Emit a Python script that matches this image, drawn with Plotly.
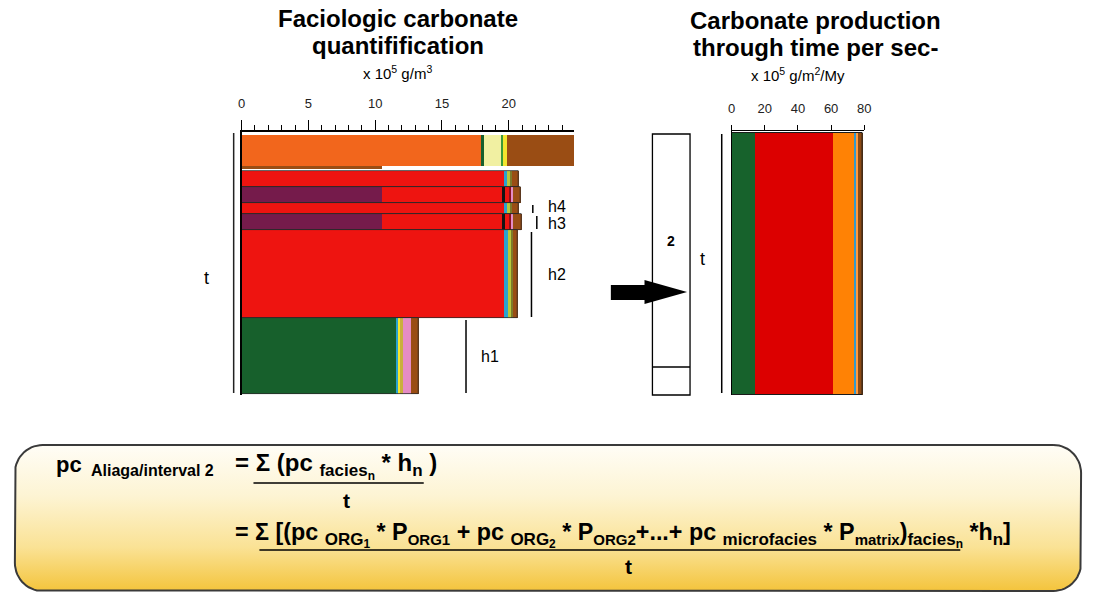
import numpy as np
import plotly.graph_objects as go

W, H = 1096, 593
FONT = "Liberation Sans, Arial, sans-serif"

# ---------------- data ----------------
# Left panel: facies beds from top to bottom (relative thickness h, in section units)
bed_labels = ["A", "B", "gap", "C", "D", "E", "F", "G", "H"]
bed_thickness = [31, 3, 2, 16, 16, 11, 16, 88, 76]
section_top = 3

palette = {
    "orange": "#f2661c", "dkgreen": "#17602c", "ltyellow": "#f1f0a2", "green": "#3a9a3a",
    "yellow": "#f3e52e", "brown": "#9a4d14", "red": "#ee1410", "cyan": "#2aa3cf",
    "lime": "#b7c83a", "olive": "#7d7a2a", "purple": "#751b4b", "black": "#141414",
    "dkred": "#8a1020", "pink": "#e58cc4", "gold": "#c9b03c",
}

# carbonate content per component (x 10^5 g/m3), stacked left to right, per bed
bed_values = [
    [17.9, 0.25, 1.25, 0.12, 0.3, 5.05],
    [10.5],
    [],
    [19.6, 0.25, 0.2, 0.15, 0.5],
    [10.5, 9.0, 0.2, 0.3, 0.1, 0.2, 0.55],
    [19.6, 0.25, 0.2, 0.15, 0.5],
    [10.5, 9.0, 0.2, 0.3, 0.1, 0.2, 0.65],
    [19.6, 0.3, 0.2, 0.15, 0.4],
    [11.5, 0.15, 0.15, 0.22, 0.6, 0.66],
]
bed_colors = [
    ["orange", "dkgreen", "ltyellow", "green", "yellow", "brown"],
    ["brown"],
    [],
    ["red", "cyan", "lime", "olive", "brown"],
    ["purple", "red", "black", "red", "dkred", "pink", "brown"],
    ["red", "cyan", "lime", "olive", "brown"],
    ["purple", "red", "black", "red", "dkred", "pink", "brown"],
    ["red", "cyan", "lime", "olive", "brown"],
    ["dkgreen", "cyan", "yellow", "gold", "pink", "brown"],
]
left_ticks = [0, 5, 10, 15, 20]

# Right panel: carbonate production through time for section interval 2 (x 10^5 g/m2/My)
sec_values = [13.7, 47.2, 13.1, 1.0, 0.8, 3.4]
sec_colors = ["#17622c", "#dc0000", "#ff8205", "#3399cc", "#ff9a40", "#8b4a14"]
sec_thickness = 262
sec_top = 2
right_ticks = [0, 20, 40, 60, 80]

# h brackets: (bed index, label)
h_marks = [(5, "h4"), (6, "h3"), (7, "h2"), (8, "h1")]
h_x = [21.8, 22.1, 21.7, 16.8]
h_label_x = [23.6, 23.6, 23.6, 18.6]
h_label_dy = [-2, 1, 0, 0]

fig = go.Figure()

# ---------------- left stacked facies bars ----------------
tops = section_top + np.concatenate([[0], np.cumsum(bed_thickness)[:-1]])
for i, (t, th) in enumerate(zip(tops, bed_thickness)):
    vals = bed_values[i]
    if not vals:
        continue
    bases = np.concatenate([[0], np.cumsum(vals)[:-1]])
    for v, b, c in zip(vals, bases, bed_colors[i]):
        fig.add_trace(go.Bar(
            orientation="h", y=[t + th / 2], x=[v], base=[b], width=[th],
            marker=dict(color=palette[c], line=dict(width=0)),
            xaxis="x", yaxis="y", showlegend=False, hoverinfo="skip"))
    if i >= 3:
        fig.add_trace(go.Bar(
            orientation="h", y=[t + th / 2], x=[sum(vals)], base=[0], width=[th],
            marker=dict(color="rgba(0,0,0,0)", line=dict(width=0.8, color="#2a2a2a")),
            xaxis="x", yaxis="y", showlegend=False, hoverinfo="skip"))

# ---------------- right production bar ----------------
sbases = np.concatenate([[0], np.cumsum(sec_values)[:-1]])
for v, b, c in zip(sec_values, sbases, sec_colors):
    fig.add_trace(go.Bar(
        orientation="h", y=[sec_top + sec_thickness / 2], x=[v], base=[b], width=[sec_thickness],
        marker=dict(color=c, line=dict(width=0)),
        xaxis="x2", yaxis="y2", showlegend=False, hoverinfo="skip"))
fig.add_trace(go.Bar(
    orientation="h", y=[sec_top + sec_thickness / 2], x=[sum(sec_values)], base=[0], width=[sec_thickness],
    marker=dict(color="rgba(0,0,0,0)", line=dict(width=1, color="#1a1a1a")),
    xaxis="x2", yaxis="y2", showlegend=False, hoverinfo="skip"))

# ---------------- formula box (pixel overlay axes) ----------------
def rounded_rect(x0, y0, x1, y1, r, n=16):
    xs, ys = [], []
    for cx, cy, a0, a1 in [(x1 - r, y0 + r, -90, 0), (x1 - r, y1 - r, 0, 90),
                           (x0 + r, y1 - r, 90, 180), (x0 + r, y0 + r, 180, 270)]:
        a = np.radians(np.linspace(a0, a1, n))
        xs.extend(cx + r * np.cos(a))
        ys.extend(cy + r * np.sin(a))
    xs.append(xs[0]); ys.append(ys[0])
    return xs, ys

bx, by = rounded_rect(11, 445, 1088, 591, 28)
fig.add_trace(go.Scatter(
    x=bx, y=by, xaxis="x3", yaxis="y3", mode="lines", fill="toself",
    fillgradient=dict(type="vertical", start=445, stop=591,
                      colorscale=[[0, "#fffdf6"], [0.35, "#fdf4d3"], [0.7, "#fae295"], [1, "#f4c43c"]]),
    line=dict(color="#3a3a3a", width=2), showlegend=False, hoverinfo="skip"))

# ---------------- layout ----------------
def ydom(top_px, bot_px):
    return [1 - bot_px / H, 1 - top_px / H]

axis_common = dict(showgrid=False, zeroline=False, showline=True, linecolor="black",
                   fixedrange=True)
fig.update_layout(
    width=W, height=H, autosize=False, margin=dict(l=0, r=0, t=0, b=0),
    paper_bgcolor="white", plot_bgcolor="rgba(0,0,0,0)", barmode="overlay",
    bargap=0, font=dict(family=FONT, color="black"),
    xaxis=dict(**axis_common, domain=[240 / W, 576 / W], range=[0, 24.9], side="top",
               anchor="y", linewidth=1.5, ticks="outside", ticklen=10, tickwidth=1.2,
               tickcolor="black", tickvals=left_ticks, ticktext=[str(v) for v in left_ticks],
               tickfont=dict(size=13, color="#222"), ticklabelstandoff=7,
               minor=dict(tick0=0, dtick=1, ticks="outside", ticklen=5, tickwidth=1,
                          tickcolor="black")),
    yaxis=dict(**axis_common, domain=ydom(132, 395), range=[263, 0], anchor="x",
               linewidth=1.5, showticklabels=False, ticks=""),
    xaxis2=dict(**axis_common, domain=[735 / W, 869 / W], range=[0, 80], side="top",
                anchor="y2", linewidth=1.2, ticks="outside", ticklen=5, tickwidth=1,
                tickcolor="black", tickvals=right_ticks, ticktext=[str(v) for v in right_ticks],
                tickfont=dict(size=13, color="#222"), ticklabelstandoff=7),
    yaxis2=dict(**axis_common, domain=ydom(131, 395), range=[264, 0], anchor="x2",
                linewidth=1.2, showticklabels=False, ticks=""),
    xaxis3=dict(domain=[0, 1], range=[0, W], visible=False, anchor="y3", fixedrange=True),
    yaxis3=dict(domain=[0, 1], range=[H, 0], visible=False, anchor="x3", fixedrange=True),
)

shapes = []
# h brackets tied to bed boundaries
for (bi, lab), hx in zip(h_marks, h_x):
    t0 = tops[bi] + 2
    t1 = tops[bi] + bed_thickness[bi] - 1
    shapes.append(dict(type="line", xref="x", yref="y", x0=hx, x1=hx, y0=t0, y1=t1,
                       line=dict(color="black", width=1.5)))
# decorative frame elements (pixel coords)
px = dict(xref="x3", yref="y3")
shapes += [
    dict(type="line", **px, x0=232, x1=232, y0=133, y1=393, line=dict(color="#222", width=1.5)),
    dict(type="rect", **px, x0=655, x1=693, y0=134, y1=395, line=dict(color="black", width=1.3)),
    dict(type="line", **px, x0=655, x1=693, y0=367, y1=367, line=dict(color="black", width=1.3)),
    dict(type="line", **px, x0=725, x1=725, y0=134, y1=393, line=dict(color="black", width=1.5)),
    dict(type="path", **px, path="M613,285 L647,285 L647,280 L690,292 L647,304 L647,300 L613,300 Z",
         fillcolor="black", line=dict(color="black", width=0)),
    dict(type="line", **px, x0=252, x1=424, y0=483, y1=483, line=dict(color="black", width=1.5)),
    dict(type="line", **px, x0=258, x1=966, y0=550, y1=550, line=dict(color="black", width=1.5)),
]
fig.update_layout(shapes=shapes)

ann = []
def A(x, y, text, size, bold=False, xanchor="center", ref="x3", yref="y3", color="black"):
    ann.append(dict(x=x, y=y, xref=ref, yref=yref, text=(f"<b>{text}</b>" if bold else text),
                    showarrow=False, xanchor=xanchor, yanchor="middle",
                    font=dict(size=size, family=FONT, color=color)))

def sub(t, size):
    return f"<sub><span style='font-size:{size}px'>{t}</span></sub>"

A(398, 18, "Faciologic carbonate", 24, True)
A(398, 45, "quantifification", 24, True)
A(397, 72, "x 10<sup>5</sup> g/m<sup>3</sup>", 15)
A(820, 20, "Carbonate production", 24, True)
A(820, 47, "through time per sec-", 24, True)
A(802, 74, "x 10<sup>5</sup> g/m<sup>2</sup>/My", 15)
A(205, 278, "t", 18)
A(706, 259, "t", 18)
A(674, 241, "2", 14, True)
for (bi, lab), lx, dy in zip(h_marks, h_label_x, h_label_dy):
    yc = tops[bi] + bed_thickness[bi] / 2 + dy
    A(lx, yc, lab, 16, ref="x", yref="y")

# formula, line 1
A(51, 464, "pc", 22, True, xanchor="left")
A(86, 470, "Aliaga/interval 2", 16, True, xanchor="left")
line1 = ("= Σ (pc " + "<sub><span style='font-size:17px'>facies<sub>n</sub></span></sub>"
         + " * h" + sub("n", 17) + " )")
A(231, 466, line1, 24, True, xanchor="left")
A(346, 500, "t", 21, True)
# formula, line 2
line2 = ("= Σ [(pc " + "<sub><span style='font-size:17px'>ORG<sub>1</sub></span></sub>"
         + " * P" + sub("ORG1", 15)
         + " + pc " + "<sub><span style='font-size:17px'>ORG<sub>2</sub></span></sub>"
         + " * P" + sub("ORG2", 15)
         + "+...+ pc " + sub("microfacies", 17)
         + " * P" + sub("matrix", 15) + ")"
         + "<sub><span style='font-size:17px'>facies<sub>n</sub></span></sub>"
         + " *h" + sub("n", 17) + "]")
A(231, 535, line2, 23.3, True, xanchor="left")
A(631, 566, "t", 21, True)
fig.update_layout(annotations=ann)

fig.write_html("out.html", config={"displayModeBar": False},
               post_script="document.body.style.margin='0';document.body.style.overflow='hidden';")
